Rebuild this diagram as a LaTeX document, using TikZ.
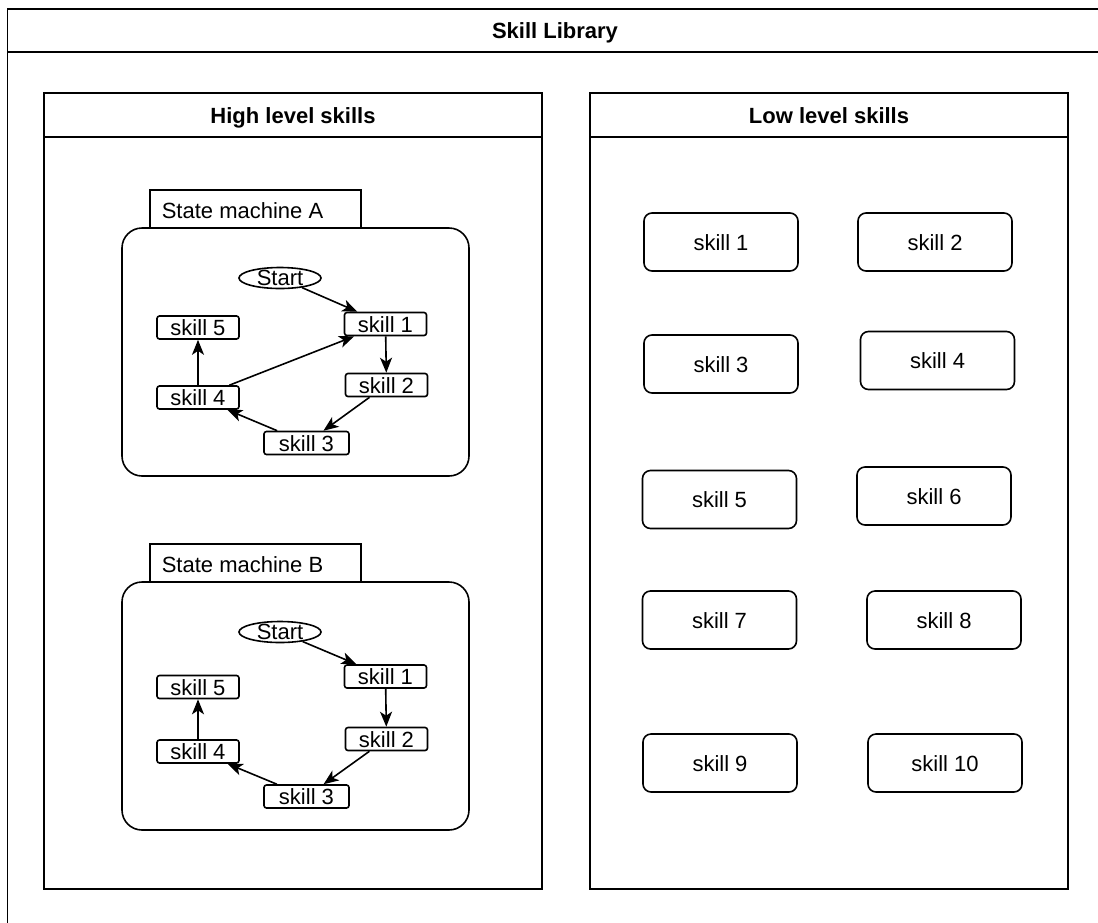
\documentclass[tikz,border=0pt]{standalone}
\usepackage{fontspec}
\setmainfont{Liberation Sans}
\usetikzlibrary{shapes.geometric,arrows.meta}
\begin{document}
\begin{tikzpicture}[x=1pt,y=-1pt,line width=1.6pt,
  every node/.style={font=\fontsize{22}{26}\selectfont,text height=16pt,text depth=0pt},
  heading/.style={font=\fontsize{22}{26}\selectfont\bfseries},
  tabtext/.style={anchor=west,inner sep=0pt},
  smallskill/.style={draw,rounded corners=2.5pt,fill=white,minimum width=82pt,minimum height=23pt,inner sep=0pt},
  bigskill/.style={draw,rounded corners=8pt,fill=white,minimum width=154pt,minimum height=58pt,inner sep=0pt},
  startshape/.style={draw,ellipse,fill=white,minimum width=82pt,minimum height=21pt,inner sep=0pt,text height=0pt},
  flow/.style={-{Stealth[length=15pt,width=12pt,inset=4pt]}},
  machine/.style={draw,rounded corners=20pt,fill=white}]
\path[use as bounding box] (0,0) rectangle (1098,922);
\clip (0,0) rectangle (1098,922);

% outer library frame
\draw (1110,9) -- (7.5,9) -- (7.5,940);
\draw (7.5,52) -- (1110,52);
\node[heading] (libtitle) at (555,30.5) {Skill Library};

% high level container
\draw (44,93) rectangle (542,889);
\draw (44,137) -- (542,137);
\node[heading] (hightitle) at (293,115) {High level skills};

% low level container
\draw (590,93) rectangle (1068,889);
\draw (590,137) -- (1068,137);
\node[heading] (lowtitle) at (829,115) {Low level skills};

% state machine A
\draw (150,190) rectangle (361,228);
\node[tabtext] (tabA) at (161,210) {State machine A};
\draw[machine] (122,228) rectangle (469,476);
\node[startshape] (sA) at (280,278) {};
\node (sAtext) at (280,277) {Start};
\node[smallskill] (k1A) at (385.5,324) {skill 1};
\node[smallskill] (k2A) at (386.5,385) {skill 2};
\node[smallskill,minimum width=85pt] (k3A) at (306.5,443) {skill 3};
\node[smallskill] (k4A) at (198,397.5) {skill 4};
\node[smallskill] (k5A) at (198,327.5) {skill 5};
\draw[flow] (sA) -- (k1A);
\draw[flow] (k1A) -- (k2A);
\draw[flow] (k2A) -- (k3A);
\draw[flow] (k3A) -- (k4A);
\draw[flow] (k4A) -- (k5A);
\draw[flow] (k4A) -- (k1A);

% state machine B
\draw (150,544) rectangle (361,582);
\node[tabtext] (tabB) at (161,564) {State machine B};
\draw[machine] (122,582) rectangle (469,830);
\node[startshape] (sB) at (280,632) {};
\node (sBtext) at (280,631) {Start};
\node[smallskill] (k1B) at (385.5,676.5) {skill 1};
\node[smallskill] (k2B) at (386.5,739) {skill 2};
\node[smallskill,minimum width=85pt] (k3B) at (306.5,796.5) {skill 3};
\node[smallskill] (k4B) at (198,751.5) {skill 4};
\node[smallskill] (k5B) at (198,687) {skill 5};
\draw[flow] (sB) -- (k1B);
\draw[flow] (k1B) -- (k2B);
\draw[flow] (k2B) -- (k3B);
\draw[flow] (k3B) -- (k4B);
\draw[flow] (k4B) -- (k5B);

% low level skills
\node[bigskill] (L1) at (721,242) {skill 1};
\node[bigskill] (L2) at (935,242) {skill 2};
\node[bigskill] (L3) at (721,364) {skill 3};
\node[bigskill] (L4) at (937.5,360.5) {skill 4};
\node[bigskill] (L5) at (719.5,499.5) {skill 5};
\node[bigskill] (L6) at (934,496) {skill 6};
\node[bigskill] (L7) at (719.5,620) {skill 7};
\node[bigskill] (L8) at (944,620) {skill 8};
\node[bigskill] (L9) at (720,763) {skill 9};
\node[bigskill] (L10) at (945,763) {skill 10};
\end{tikzpicture}
\end{document}
